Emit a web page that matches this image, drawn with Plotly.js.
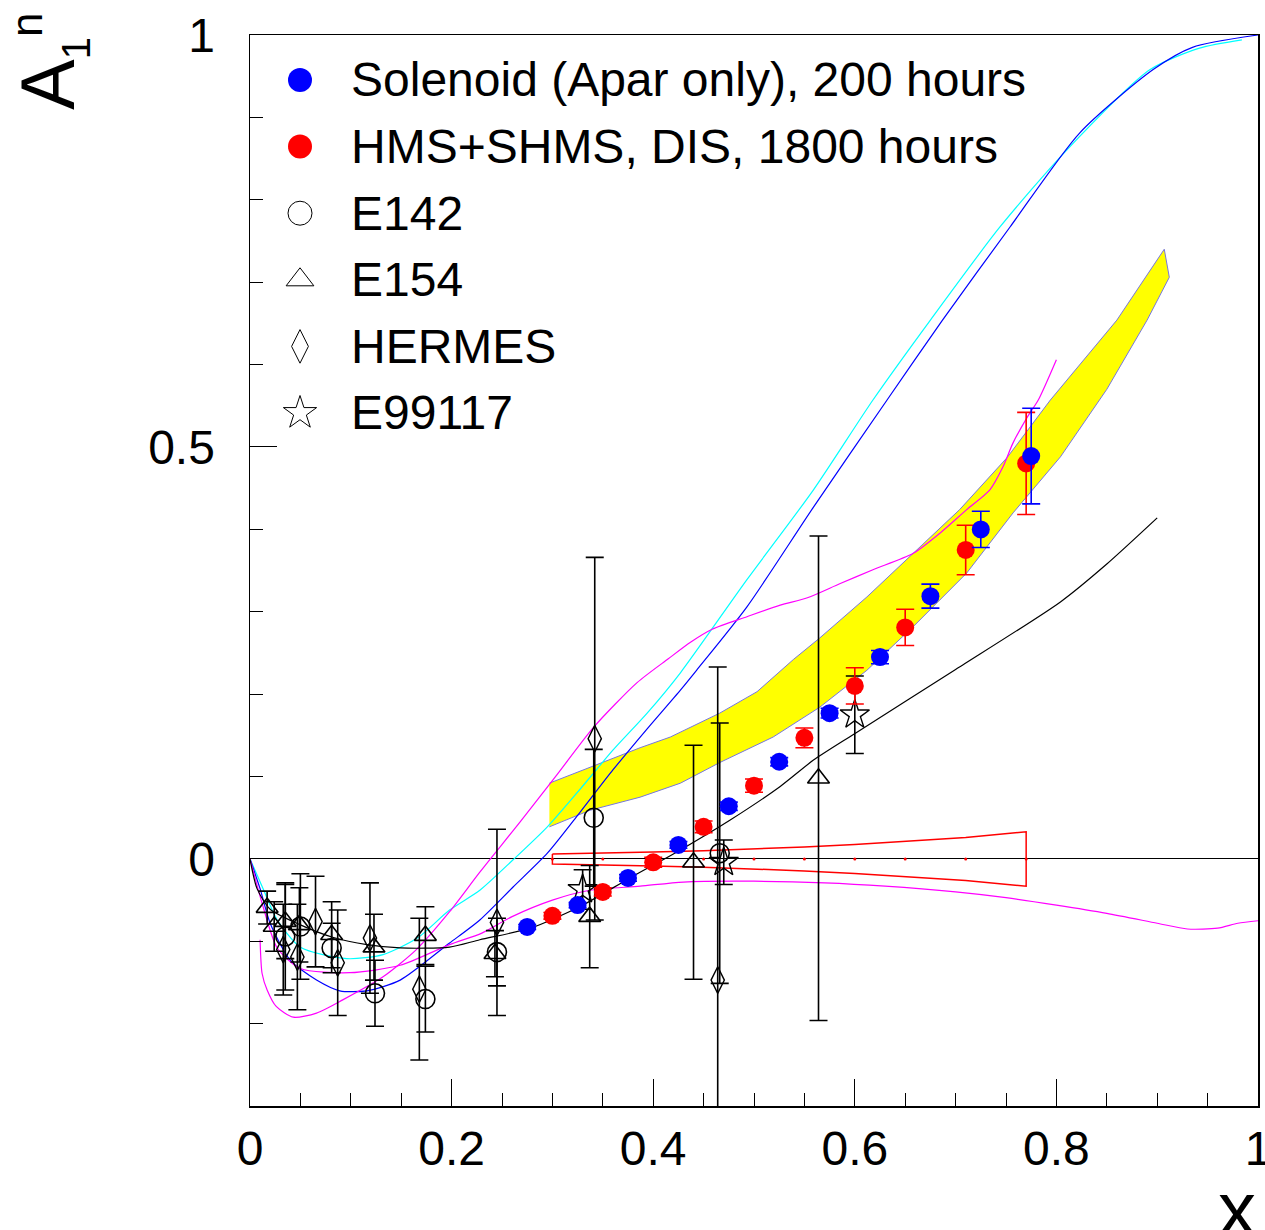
<!DOCTYPE html>
<html>
<head>
<meta charset="utf-8">
<script src="https://cdn.plot.ly/plotly-3.0.1.min.js"></script>
<style>
  html, body { margin: 0; padding: 0; background: #fff; }
  #chart { width: 1265px; height: 1230px; }
</style>
</head>
<body>
<div id="chart"></div>
<script>
// ---------------- data ----------------
// Solenoid (Apar only), 200 hours
const solX   = [0.275, 0.325, 0.375, 0.425, 0.475, 0.525, 0.575, 0.625, 0.675, 0.725, 0.775];
const solY   = [-0.0825, -0.056, -0.023, 0.017, 0.064, 0.118, 0.177, 0.245, 0.319, 0.400, 0.489];
const solErr = [0.003, 0.003, 0.004, 0.004, 0.005, 0.005, 0.006, 0.008, 0.0146, 0.022, 0.058];

// HMS+SHMS, DIS, 1800 hours
const hmsX   = [0.30, 0.35, 0.40, 0.45, 0.50, 0.55, 0.60, 0.65, 0.71, 0.77];
const hmsY   = [-0.069, -0.040, -0.004, 0.039, 0.089, 0.147, 0.210, 0.281, 0.375, 0.480];
const hmsErr = [0.004, 0.005, 0.006, 0.007, 0.008, 0.012, 0.022, 0.022, 0.030, 0.062];
const hmsSys = [0.006, 0.007, 0.0085, 0.010, 0.012, 0.0145, 0.0175, 0.021, 0.026, 0.033];
const hmsSysCenter = [0, 0, 0, 0, 0, 0, 0, 0, 0, 0];

// E142
const e142X   = [0.035, 0.050, 0.081, 0.124, 0.174, 0.245, 0.341, 0.466];
const e142Y   = [-0.094, -0.082, -0.108, -0.163, -0.170, -0.113, 0.050, 0.007];
const e142Err = [0.065, 0.064, 0.030, 0.040, 0.040, 0.041, 0.083, 0.158];

// E154
const e154X   = [0.017, 0.024, 0.035, 0.049, 0.081, 0.123, 0.174, 0.243, 0.337, 0.440, 0.564];
const e154Y   = [-0.059, -0.082, -0.076, -0.080, -0.092, -0.107, -0.093, -0.115, -0.070, -0.004, 0.098];
const e154Err = [0.020, 0.030, 0.045, 0.045, 0.040, 0.040, 0.035, 0.028, 0.062, 0.142, 0.294];

// HERMES
const hermX   = [0.033, 0.047, 0.065, 0.087, 0.119, 0.168, 0.245, 0.342, 0.464];
const hermY   = [-0.110, -0.119, -0.076, -0.126, -0.096, -0.158, -0.077, 0.146, -0.147];
const hermErr = [0.055, 0.064, 0.055, 0.064, 0.067, 0.086, 0.113, 0.220, 0.380];

// E99117
const e99X   = [0.33, 0.47, 0.60];
const e99Y   = [-0.037, -0.004, 0.175];
const e99Err = [0.024, 0.027, 0.047];

// yellow band (upper and lower edges)
const bandUpX = [0.297, 0.340, 0.387, 0.417, 0.466, 0.503, 0.539, 0.565, 0.612, 0.658, 0.704, 0.751, 0.794, 0.860, 0.907];
const bandUpY = [0.092, 0.113, 0.135, 0.148, 0.177, 0.203, 0.242, 0.268, 0.318, 0.371, 0.424, 0.487, 0.557, 0.654, 0.740];
const bandLoX = [0.297, 0.337, 0.387, 0.427, 0.466, 0.519, 0.565, 0.612, 0.658, 0.711, 0.757, 0.804, 0.850, 0.890, 0.912];
const bandLoY = [0.039, 0.059, 0.075, 0.092, 0.117, 0.148, 0.184, 0.229, 0.282, 0.347, 0.420, 0.488, 0.570, 0.654, 0.706];

// model curves
const blackX = [0, 0.007, 0.020, 0.050, 0.082, 0.116, 0.149, 0.198, 0.228, 0.278, 0.327, 0.377, 0.427, 0.476, 0.526, 0.559, 0.601, 0.700, 0.804, 0.850, 0.900];
const blackY = [0, -0.036, -0.061, -0.080, -0.095, -0.104, -0.108, -0.107, -0.098, -0.084, -0.058, -0.023, 0.011, 0.047, 0.088, 0.120, 0.153, 0.230, 0.312, 0.358, 0.414];

const cyanX = [0, 0.013, 0.027, 0.050, 0.096, 0.132, 0.166, 0.198, 0.228, 0.261, 0.295, 0.327, 0.360, 0.394, 0.427, 0.493, 0.559, 0.618, 0.675, 0.744, 0.810, 0.893, 0.942, 0.984];
const cyanY = [0, -0.036, -0.074, -0.107, -0.121, -0.116, -0.096, -0.062, -0.038, -0.001, 0.039, 0.084, 0.132, 0.177, 0.226, 0.339, 0.448, 0.557, 0.654, 0.767, 0.860, 0.958, 0.984, 0.994];

const blueX = [0, 0.010, 0.020, 0.040, 0.066, 0.089, 0.116, 0.149, 0.198, 0.228, 0.261, 0.295, 0.327, 0.360, 0.394, 0.427, 0.443, 0.493, 0.559, 0.632, 0.687, 0.754, 0.823, 0.896, 0.935, 1.0];
const blueY = [0, -0.036, -0.078, -0.123, -0.147, -0.160, -0.160, -0.147, -0.102, -0.074, -0.034, 0.007, 0.056, 0.108, 0.158, 0.205, 0.229, 0.306, 0.427, 0.557, 0.654, 0.767, 0.881, 0.958, 0.985, 1.0];

const mag1X = [0.010, 0.012, 0.017, 0.026, 0.043, 0.066, 0.092, 0.132, 0.165, 0.198, 0.228, 0.268, 0.305, 0.341, 0.384, 0.415, 0.437, 0.459, 0.493, 0.526, 0.553, 0.585, 0.618, 0.658, 0.685, 0.711, 0.734, 0.747, 0.757, 0.771, 0.782, 0.800];
const mag1Y = [-0.098, -0.139, -0.159, -0.179, -0.192, -0.187, -0.171, -0.143, -0.110, -0.064, -0.016, 0.045, 0.103, 0.160, 0.214, 0.243, 0.263, 0.279, 0.294, 0.308, 0.317, 0.334, 0.351, 0.371, 0.396, 0.424, 0.448, 0.476, 0.505, 0.536, 0.557, 0.606];

const mag2X = [0, 0.013, 0.027, 0.050, 0.099, 0.149, 0.198, 0.230, 0.260, 0.300, 0.337, 0.387, 0.430, 0.500, 0.570, 0.630, 0.700, 0.750, 0.800, 0.850, 0.900, 0.930, 0.960, 0.980, 1.0];
const mag2Y = [0, -0.058, -0.108, -0.133, -0.138, -0.129, -0.104, -0.090, -0.070, -0.050, -0.038, -0.033, -0.028, -0.027, -0.029, -0.033, -0.040, -0.047, -0.056, -0.066, -0.078, -0.085, -0.084, -0.078, -0.075];

// tick values / labels
const xTickVals = [0, 0.2, 0.4, 0.6, 0.8, 1];
const xTickText = ["0", "0.2", "0.4", "0.6", "0.8", "1"];
const yTickVals = [0, 0.5, 1];
const yTickText = ["0", "0.5", "1"];

const legendNames = ["Solenoid (Apar only), 200 hours", "HMS+SHMS, DIS, 1800 hours", "E142", "E154", "HERMES", "E99117"];

// ---------------- styles ----------------
const FONT = '"Liberation Sans", Arial, Helvetica, sans-serif';
const W = 1265, H = 1230;
const M = {l: 250, r: 7, t: 35, b: 124};
const plotW = W - M.l - M.r, plotH = H - M.t - M.b;

const styles = [
  {symbol: 'circle', color: '#0000ff', lw: 0, size: 18, legSize: 24},
  {symbol: 'circle', color: '#ff0000', lw: 0, size: 18, legSize: 24},
  {symbol: 'circle-open', color: '#000000', lw: 1.6, size: 19, legSize: 24},
  {symbol: 'triangle-up-open', color: '#000000', lw: 1.6, size: 19, legSize: 24},
  {symbol: 'diamond-tall-open', color: '#000000', lw: 1.4, size: 19, legSize: 24},
  {symbol: 'star-open', color: '#000000', lw: 1.4, size: 22, legSize: 25}
];

function curve(x, y, color) {
  return {x: x, y: y, type: 'scatter', mode: 'lines', line: {color: color, width: 1.2, shape: 'spline', smoothing: 0.7},
          hoverinfo: 'skip', showlegend: false};
}
function pts(x, y, err, st, errColor) {
  return {x: x, y: y, type: 'scatter', mode: 'markers', showlegend: false, cliponaxis: true,
          marker: {symbol: st.symbol, size: st.size, color: st.color, line: {color: st.color, width: st.lw}},
          error_y: {type: 'data', array: err, visible: true, color: errColor, thickness: 1.6, width: 9}};
}

const traces = [];
// yellow band
traces.push({
  x: bandUpX.concat(bandLoX.slice().reverse()),
  y: bandUpY.concat(bandLoY.slice().reverse()),
  type: 'scatter', mode: 'lines', fill: 'toself', fillcolor: '#ffff00',
  line: {color: '#7777dd', width: 1}, hoverinfo: 'skip', showlegend: false
});
// curves
traces.push(curve(cyanX, cyanY, '#00ffff'));
traces.push(curve(blueX, blueY, '#0000ff'));
traces.push(curve(mag1X, mag1Y, '#ff00ff'));
traces.push(curve(mag2X, mag2Y, '#ff00ff'));
traces.push(curve(blackX, blackY, '#000000'));
// systematic error outline for HMS+SHMS
traces.push({
  x: hmsX.concat(hmsX.slice().reverse(), [hmsX[0]]),
  y: hmsSys.concat(hmsSys.slice().reverse().map(v => -v), [hmsSys[0]]),
  type: 'scatter', mode: 'lines', line: {color: '#ff0000', width: 1.5},
  hoverinfo: 'skip', showlegend: false
});
traces.push({x: hmsX, y: hmsSysCenter, type: 'scatter', mode: 'markers',
  marker: {color: '#ff0000', size: 3}, hoverinfo: 'skip', showlegend: false});
// world data
traces.push(pts(hermX, hermY, hermErr, styles[4], '#000000'));
traces.push(pts(e154X, e154Y, e154Err, styles[3], '#000000'));
traces.push(pts(e142X, e142Y, e142Err, styles[2], '#000000'));
traces.push(pts(e99X, e99Y, e99Err, styles[5], '#000000'));
// projections
traces.push(pts(hmsX, hmsY, hmsErr, styles[1], '#ff0000'));
traces.push(pts(solX, solY, solErr, styles[0], '#0000ff'));

// ---------------- custom legend (symbols on an overlay axis, text as annotations) ----------------
const legSymbolPx = 300, legTextPx = 349, legTop = 80, legStep = 66.6;
const annotations = [];
legendNames.forEach((name, i) => {
  const py = legTop + legStep * i;
  const yy = (M.t + plotH - py) / plotH;
  const st = styles[i];
  traces.push({
    x: [(legSymbolPx - M.l) / plotW], y: [yy], xaxis: 'x2', yaxis: 'y2',
    type: 'scatter', mode: 'markers', showlegend: false, hoverinfo: 'skip',
    marker: {symbol: st.symbol, size: st.legSize, color: st.color,
             line: {color: st.color, width: st.lw ? 1 : 0}}
  });
  annotations.push({
    xref: 'paper', yref: 'paper', x: (legTextPx - M.l) / plotW, y: yy,
    xanchor: 'left', yanchor: 'middle', showarrow: false, text: name,
    font: {family: FONT, size: 48, color: '#000'}
  });
});

// axis titles
annotations.push({
  xref: 'paper', yref: 'paper', x: 1, y: -0.054, xanchor: 'right', yanchor: 'top',
  showarrow: false, text: 'x', font: {family: FONT, size: 76, color: '#000'}
});
annotations.push({
  xref: 'paper', yref: 'paper', x: (50 - M.l) / plotW, y: (M.t + plotH - 62) / plotH,
  xanchor: 'center', yanchor: 'middle', textangle: -90, showarrow: false,
  text: 'A<sub><span style="font-size:40px">1</span></sub><sup><span style="font-size:44px">n</span></sup>',
  font: {family: FONT, size: 76, color: '#000'}
});

const layout = {
  width: W, height: H,
  margin: M,
  paper_bgcolor: '#ffffff', plot_bgcolor: '#ffffff',
  font: {family: FONT, color: '#000'},
  showlegend: false,
  xaxis: {
    range: [0, 1], tickvals: xTickVals, ticktext: xTickText,
    ticks: 'inside', ticklen: 27, tickwidth: 1, tickcolor: '#000',
    minor: {dtick: 0.05, tick0: 0, ticks: 'inside', ticklen: 13, tickwidth: 1, tickcolor: '#000', showgrid: false},
    showgrid: false, zeroline: false, showline: true, linecolor: '#000', linewidth: 1.5, mirror: true,
    tickfont: {family: FONT, size: 48, color: '#000'}, ticklabelstandoff: 0,
    ticklabeloverflow: 'allow'
  },
  yaxis: {
    range: [-0.2998, 1.0], tickvals: yTickVals, ticktext: yTickText,
    ticks: 'inside', ticklen: 27, tickwidth: 1, tickcolor: '#000',
    minor: {dtick: 0.1, tick0: 0, ticks: 'inside', ticklen: 13, tickwidth: 1, tickcolor: '#000', showgrid: false},
    showgrid: false, zeroline: true, zerolinecolor: '#000', zerolinewidth: 1,
    showline: true, linecolor: '#000', linewidth: 1.5, mirror: true,
    tickfont: {family: FONT, size: 48, color: '#000'}, ticklabelstandoff: 24,
    ticklabeloverflow: 'allow'
  },
  xaxis2: {overlaying: 'x', range: [0, 1], visible: false, fixedrange: true},
  yaxis2: {overlaying: 'y', range: [0, 1], visible: false, fixedrange: true},
  annotations: annotations
};

Plotly.newPlot('chart', traces, layout, {staticPlot: true, displayModeBar: false});
</script>
</body>
</html>
